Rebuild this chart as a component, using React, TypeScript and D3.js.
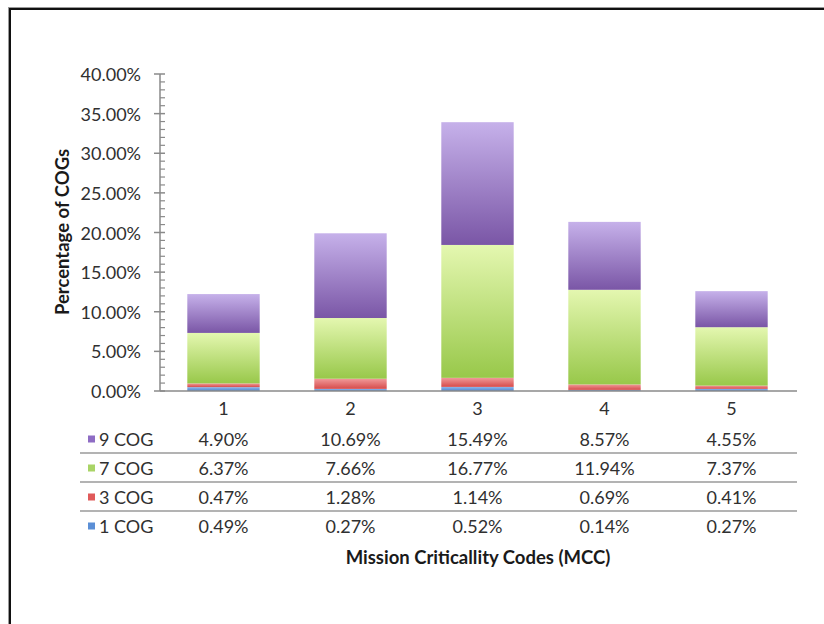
import React from "react";
import * as d3 from "d3";

// MCC categories along the x axis
const categories = ["1", "2", "3", "4", "5"];

// Percentage of COGs per MCC, one array per COG group
const cog9 = [4.9, 10.69, 15.49, 8.57, 4.55];
const cog7 = [6.37, 7.66, 16.77, 11.94, 7.37];
const cog3 = [0.47, 1.28, 1.14, 0.69, 0.41];
const cog1 = [0.49, 0.27, 0.52, 0.14, 0.27];

// Stacking order, bottom to top
const seriesKeys = ["1 COG", "3 COG", "7 COG", "9 COG"];
// Data-table row order, top to bottom
const tableKeys = ["9 COG", "7 COG", "3 COG", "1 COG"];

const yMajorTicks = [0, 5, 10, 15, 20, 25, 30, 35, 40];

const yTitle = "Percentage of COGs";
const xTitle = "Mission Criticallity Codes (MCC)";

const valuesByKey: Record<string, number[]> = {
  "9 COG": cog9,
  "7 COG": cog7,
  "3 COG": cog3,
  "1 COG": cog1,
};

const colors: Record<string, { top: string; bottom: string; swatch: string }> = {
  "9 COG": { top: "#c6b1ea", bottom: "#7a56a6", swatch: "#8e6cc4" },
  "7 COG": { top: "#e4f7b0", bottom: "#98c84a", swatch: "#a9d466" },
  "3 COG": { top: "#f19a9a", bottom: "#d64b4b", swatch: "#e05a5a" },
  "1 COG": { top: "#8fb6ec", bottom: "#4f83cc", swatch: "#5b8fd6" },
};

const FONT = "Lato, 'Open Sans', sans-serif";
const TEXT = "#303030";
const AXIS = "#8a8a8a";
const FS = 18;
const FS_BOLD = 18.5;

export default function App() {
  const W = 824;
  const H = 624;

  const x = d3
    .scaleBand<string>()
    .domain(categories)
    .range([160, 795])
    .paddingInner(0.43)
    .paddingOuter(0.215);

  const y = d3.scaleLinear().domain([0, 40]).range([391, 74]);

  const rows = categories.map((c, i) => {
    const r: Record<string, any> = { cat: c };
    seriesKeys.forEach((k) => (r[k] = valuesByKey[k][i]));
    return r;
  });
  const stacked = d3.stack<Record<string, any>>().keys(seriesKeys)(rows);

  const minorTicks = d3.range(0, 40.001, 1).filter((v) => v % 5 !== 0);

  const tableTop = 424; // top of first data-table row
  const rowH = 29;

  return (
    <svg
      width={W}
      height={H}
      style={{ position: "absolute", left: 0, top: 0, display: "block", background: "#fff" }}
      fontFamily={FONT}
    >
      <defs>
        {seriesKeys.map((k, i) => (
          <linearGradient key={k} id={`grad-${i}`} x1="0" y1="0" x2="0" y2="1">
            <stop offset="0%" stopColor={colors[k].top} />
            <stop offset="100%" stopColor={colors[k].bottom} />
          </linearGradient>
        ))}
      </defs>

      {/* frame */}
      <rect x={8.5} y={7.5} width={W + 10} height={H + 10} fill="none" stroke="#9a9a9a" strokeWidth={1} />
      <rect x={10} y={9} width={W + 10} height={H + 10} fill="none" stroke="#111" strokeWidth={2} />

      {/* bars */}
      {stacked.map((s, si) => (
        <g key={s.key}>
          {s.map((d, i) => (
            <rect
              key={i}
              x={x(categories[i])}
              width={x.bandwidth()}
              y={y(d[1])}
              height={y(d[0]) - y(d[1])}
              fill={`url(#grad-${si})`}
            />
          ))}
        </g>
      ))}

      {/* y axis */}
      <line x1={160} x2={160} y1={y(40)} y2={y(0)} stroke={AXIS} strokeWidth={1.5} />
      {yMajorTicks.map((t) => (
        <g key={t}>
          <line x1={154} x2={165} y1={y(t)} y2={y(t)} stroke={AXIS} strokeWidth={1.5} />
          <text
            x={141}
            y={y(t)}
            textAnchor="end"
            dominantBaseline="central"
            fontSize={FS}
            fill={TEXT}
          >
            {t.toFixed(2) + "%"}
          </text>
        </g>
      ))}
      {minorTicks.map((t) => (
        <line key={t} x1={160} x2={165} y1={y(t)} y2={y(t)} stroke={AXIS} strokeWidth={1.2} />
      ))}

      {/* x axis */}
      <line x1={160} x2={797} y1={y(0)} y2={y(0)} stroke={AXIS} strokeWidth={1.5} />
      {categories.map((c) => (
        <text
          key={c}
          x={(x(c) ?? 0) + x.bandwidth() / 2}
          y={408}
          textAnchor="middle"
          dominantBaseline="central"
          fontSize={FS}
          fill={TEXT}
        >
          {c}
        </text>
      ))}

      {/* data table */}
      {tableKeys.map((k, ri) => {
        const cy = tableTop + ri * rowH + rowH / 2;
        return (
          <g key={k}>
            <rect x={88} y={cy - 3} width={7} height={7} fill={colors[k].swatch} />
            <text x={99} y={cy} dominantBaseline="central" fontSize={FS} fill={TEXT}>
              {k}
            </text>
            {valuesByKey[k].map((v, ci) => (
              <text
                key={ci}
                x={(x(categories[ci]) ?? 0) + x.bandwidth() / 2}
                y={cy}
                textAnchor="middle"
                dominantBaseline="central"
                fontSize={FS}
                fill={TEXT}
              >
                {v.toFixed(2) + "%"}
              </text>
            ))}
            {ri < tableKeys.length - 1 && (
              <line
                x1={80}
                x2={797}
                y1={tableTop + (ri + 1) * rowH}
                y2={tableTop + (ri + 1) * rowH}
                stroke="#9a9a9a"
                strokeWidth={1.5}
              />
            )}
          </g>
        );
      })}

      {/* axis titles */}
      <text
        x={478}
        y={557}
        textAnchor="middle"
        dominantBaseline="central"
        fontSize={FS_BOLD}
        fontWeight="bold"
        fill="#1a1a1a"
      >
        {xTitle}
      </text>
      <text
        transform={`translate(62, 232) rotate(-90)`}
        textAnchor="middle"
        dominantBaseline="central"
        fontSize={FS_BOLD}
        fontWeight="bold"
        fill="#1a1a1a"
      >
        {yTitle}
      </text>
    </svg>
  );
}
